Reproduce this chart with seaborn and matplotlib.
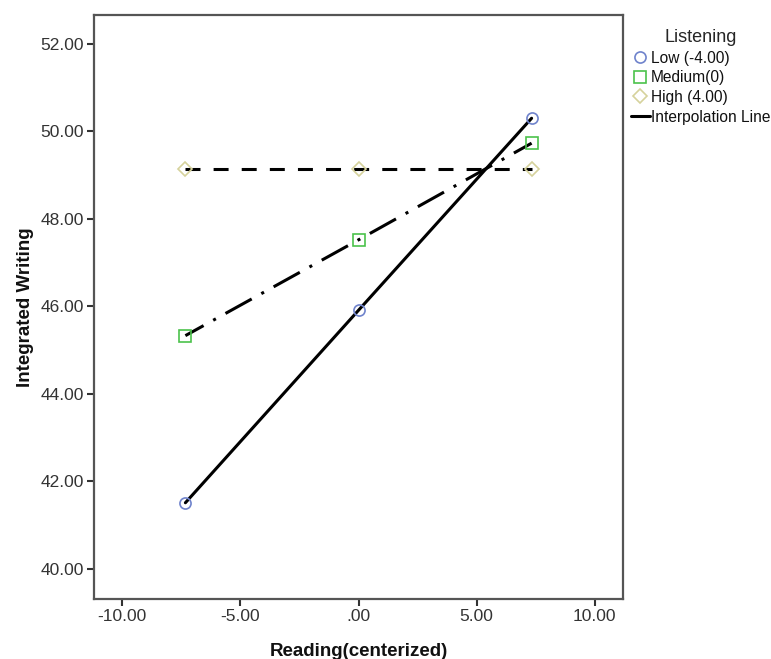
import matplotlib
matplotlib.use("Agg")
import matplotlib.pyplot as plt
from matplotlib.lines import Line2D
import seaborn as sns
import pandas as pd

reading = [-7.33, 0.0, 7.33]
low_vals = [41.51, 45.91, 50.30]
medium_vals = [45.33, 47.52, 49.73]
high_vals = [49.14, 49.14, 49.14]
series_names = ["Low (-4.00)", "Medium(0)", "High (4.00)"]
x_ticks = [-10, -5, 0, 5, 10]
x_tick_labels = ["-10.00", "-5.00", ".00", "5.00", "10.00"]
y_ticks = [40, 42, 44, 46, 48, 50, 52]
y_tick_labels = ["40.00", "42.00", "44.00", "46.00", "48.00", "50.00", "52.00"]

sns.set_theme(style="white")
plt.rcParams["font.family"] = ["Liberation Sans", "DejaVu Sans"]

fig = plt.figure(figsize=(7.71, 6.59), dpi=100)
W, H = 771, 659
ax = fig.add_axes([94 / W, 1 - 599 / H, (623 - 94) / W, (599 - 15) / H])

colors = ["#6f83cc", "#4cc24c", "#d6d29c"]
markers = ["o", "s", "D"]
msizes = [8, 8, 7.5]
dash_styles = ["-", (3.0, (9.8, 3.6, 1.0, 3.6)), (0, (4.9, 4.3))]
vals = [low_vals, medium_vals, high_vals]
LW = 2.2

for name, v, c, m, ms, ls in zip(series_names, vals, colors, markers, msizes, dash_styles):
    df = pd.DataFrame({"Reading": reading, "Writing": v})
    sns.lineplot(data=df, x="Reading", y="Writing", ax=ax, color="black",
                 linewidth=LW, linestyle=ls, zorder=2)
    sns.lineplot(data=df, x="Reading", y="Writing", ax=ax, color="black",
                 linewidth=0, marker=m, markersize=ms, markerfacecolor="none",
                 markeredgecolor=c, markeredgewidth=1.2, zorder=3)

ax.set_xlim(-11.2, 11.2)
ax.set_ylim(39.31, 52.66)
ax.set_xticks(x_ticks)
ax.set_xticklabels(x_tick_labels)
ax.set_yticks(y_ticks)
ax.set_yticklabels(y_tick_labels)
ax.tick_params(axis="both", which="major", direction="out", length=5, width=1.5,
               color="#333333", labelsize=12.5, labelcolor="#333333", pad=2,
               left=True, bottom=True)
for s in ax.spines.values():
    s.set_color("#555555")
    s.set_linewidth(1.6)
ax.set_xlabel("Reading(centerized)", fontsize=13.5, fontweight="bold", color="#111111", labelpad=14)
ax.set_ylabel("Integrated Writing", fontsize=13.5, fontweight="bold", color="#111111", labelpad=5)
ax.grid(False)

handles = [Line2D([], [], linestyle="none", marker=m, markersize=ms, markerfacecolor="none",
                  markeredgecolor=c, markeredgewidth=1.2)
           for m, ms, c in zip(markers, msizes, colors)]
handles.append(Line2D([], [], color="black", linewidth=LW))
labels = series_names + ["Interpolation Line"]
leg = fig.legend(handles, labels, title="Listening", loc="upper left",
                 bbox_to_anchor=(620 / W, 1 - 18 / H), frameon=False,
                 fontsize=11.2, title_fontsize=13, handlelength=1.2,
                 handletextpad=0.1, labelspacing=0.3, borderpad=0.2)
for t in leg.get_texts():
    t.set_color("#111111")

fig.savefig("out.png", dpi=100)
